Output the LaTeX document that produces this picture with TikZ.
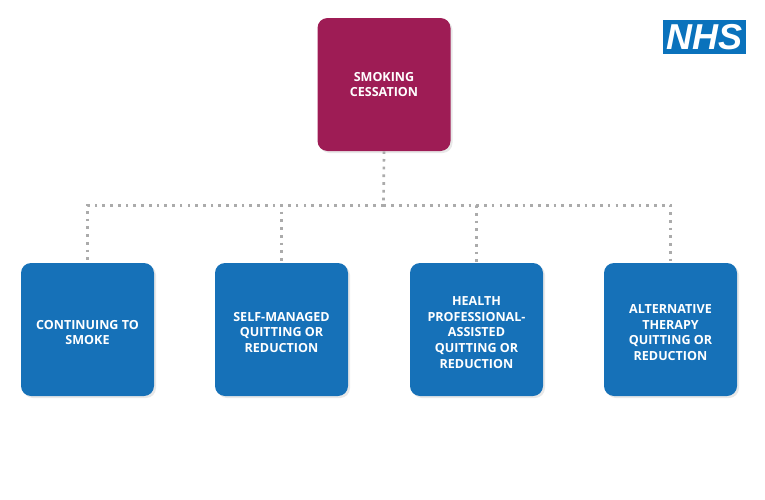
\documentclass[tikz,border=0pt]{standalone}
\usepackage{fontspec}
\usetikzlibrary{shadows}
\setmainfont{Open Sans}
\newfontfamily\logofont{Liberation Sans}
\definecolor{topred}{HTML}{9E1C55}
\definecolor{boxblue}{HTML}{1671B8}
\definecolor{logoblue}{HTML}{0A72BC}
\definecolor{dotgray}{HTML}{ABABAB}
\newcommand{\lowertext}{\rule{0pt}{11.2pt}}
\tikzset{
    card/.style={rounded corners=7.5pt, minimum width=99.75pt, minimum height=99.75pt, inner sep=0pt,
        align=center, text=white, font=\bfseries\fontsize{9.4}{11.8}\selectfont,
        drop shadow={shadow xshift=1.5pt, shadow yshift=-1.5pt, opacity=0.18}},
    bluecard/.style={card, fill=boxblue},
    busline/.style={draw=dotgray, line width=2pt, dash pattern=on 2pt off 3.8pt},
}
\begin{document}
\begin{tikzpicture}[x=0.75pt, y=-0.75pt]
    \useasboundingbox (0, 0) rectangle (765, 500);

    % Draw the connector junction
    \coordinate (busmid) at (383.5, 205.4);

    % Draw the boxes
    \node[card, fill=topred] (cessation) at (384, 84.5) {SMOKING\\CESSATION};
    \node[bluecard] (smoke) at (87.5, 329.5) {\lowertext CONTINUING TO\\SMOKE};
    \node[bluecard] (self) at (281.5, 329.5) {\lowertext SELF-MANAGED\\QUITTING OR\\REDUCTION};
    \node[bluecard] (health) at (476.5, 329.5) {\lowertext HEALTH\\PROFESSIONAL-\\ASSISTED\\QUITTING OR\\REDUCTION};
    \node[bluecard] (alternative) at (670.5, 329.5) {\lowertext ALTERNATIVE\\THERAPY\\QUITTING OR\\REDUCTION};

    % Draw the dotted connectors
    \draw[busline] (cessation.south) -- (busmid);
    \draw[busline] (busmid) -| (smoke.north);
    \draw[busline] (busmid) -| (self.north);
    \draw[busline] (busmid) -| (health.north);
    \draw[busline] (busmid) -| (alternative.north);

    % Add the logo
    \node[fill=logoblue, text=white, minimum width=62.25pt, minimum height=25.5pt, inner sep=0pt,
        font=\logofont\bfseries\itshape\fontsize{27}{27}\selectfont] (logo) at (704.5, 37) {NHS};
\end{tikzpicture}
\end{document}
